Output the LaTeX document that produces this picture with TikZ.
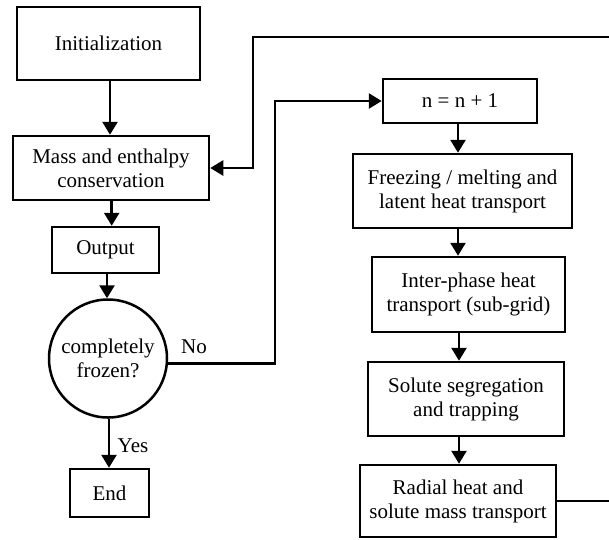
\documentclass[tikz,border=0pt]{standalone}
\usepackage{fontspec}
\setmainfont{Liberation Serif}
\usetikzlibrary{arrows.meta,calc}
\begin{document}
\begin{tikzpicture}[x=1pt,y=-1pt,
  every node/.style={font=\fontsize{21}{24}\selectfont},
  box/.style={draw,line width=2.5pt,align=center,inner sep=0pt},
  circbox/.style={draw,circle,line width=2.5pt,align=center,inner sep=0pt,minimum size=118pt},
  conn/.style={line width=2.6pt},
  arr/.style={conn,-{Triangle[length=13pt,width=15pt]}},
  lbl/.style={inner sep=0pt}]
\useasboundingbox (0,0) rectangle (609,539);
\node[box,minimum width=183pt,minimum height=73pt] (init) at (108.5,43.5) {Initialization};
\node[box,minimum width=196pt,minimum height=64pt] (mass) at (111,168) {Mass and enthalpy\\conservation};
\node[box,minimum width=107pt,minimum height=46pt] (out) at (105.5,250) {Output};
\node[circbox] (circ) at (108,358.5) {completely\\frozen?};
\node[box,minimum width=79pt,minimum height=48pt] (end) at (109.5,493) {End};
\node[box,minimum width=154pt,minimum height=44pt] (n) at (460,101) {n = n + 1};
\node[box,minimum width=219pt,minimum height=74pt] (frz) at (462.5,191) {Freezing / melting and\\latent heat transport};
\node[box,minimum width=193pt,minimum height=75pt] (inter) at (468.5,294.5) {Inter-phase heat\\transport (sub-grid)};
\node[box,minimum width=196pt,minimum height=74pt] (sol) at (466,399) {Solute segregation\\and trapping};
\node[box,minimum width=196pt,minimum height=72pt] (rad) at (458,501) {Radial heat and\\solute mass transport};
\node[lbl] (no) at (194,347) {No};
\node[lbl] (yes) at (133,446) {Yes};
\coordinate (topR) at (609,37);
\coordinate (lp) at (253,37);
\coordinate (botR) at (609,499);
\draw[arr] ($(init.south)+(1.5,0)$) -- ($(init.south |- mass.north)+(1.5,0)$);
\draw[arr] ($(mass.south)+(0.7,0)$) -- ($(mass.south |- out.north)+(0.7,0)$);
\draw[arr] ($(out.south)+(1.5,0)$) -- ($(out.south |- circ.north)+(1.5,0)$);
\draw[arr] ($(circ.south)+(1,0)$) -- ($(circ.south |- end.north)+(1,0)$);
\draw[arr] (circ.-5) -- ++(107,0) |- (n.west);
\draw[arr] ($(n.south)+(-2,0)$) -- ($(n.south |- frz.north)+(-2,0)$);
\draw[arr] ($(frz.south)+(-4.5,0)$) -- ($(frz.south |- inter.north)+(-4.5,0)$);
\draw[arr] ($(inter.south)+(-9.5,0)$) -- ($(inter.south |- sol.north)+(-9.5,0)$);
\draw[arr] ($(sol.south)+(-7,0)$) -- ($(sol.south |- rad.north)+(-7,0)$);
\draw[arr] (topR) -- (lp) |- (mass.east);
\draw[conn] (rad.east) -- (rad.east -| botR);
\end{tikzpicture}
\end{document}
